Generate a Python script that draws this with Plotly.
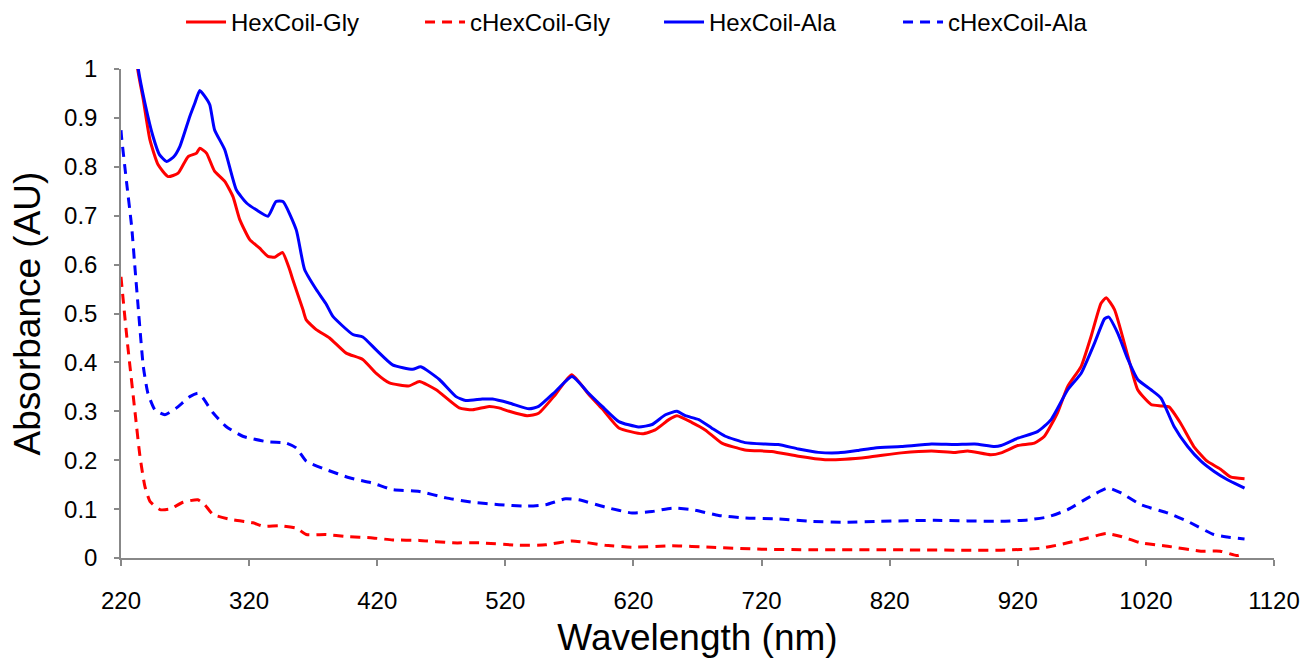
import plotly.graph_objects as go

# ---------------- data ----------------
wl_hex_gly = [220, 226, 233, 237.4, 242.6, 249, 256.8, 264.6, 272.4, 279, 281.5, 286.7, 293, 301,
              307.4, 312.7, 320.5, 328, 334.7, 340, 346, 351.6, 354, 362, 364.6, 372.4, 382.8,
              395.8, 408.7, 419, 429.5, 445, 452.9, 466, 484, 494.4, 507.4, 515, 523, 537, 546,
              559, 571.8, 585.3, 595.6, 608.6, 627, 637, 647.6, 654, 665.7, 676, 689, 707, 728,
              748.8, 769.6, 785, 803, 829, 852.6, 871, 881, 899, 907, 920, 933, 940.8, 951, 959,
              969.5, 977.2, 985, 989, 995.5, 1006, 1013.6, 1024, 1031.8, 1038, 1047, 1057.4,
              1067.8, 1078, 1086, 1097]
abs_hex_gly = [1.38, 1.18, 1.00, 0.937, 0.855, 0.804, 0.780, 0.787, 0.821, 0.828, 0.838, 0.828,
               0.791, 0.770, 0.739, 0.692, 0.651, 0.634, 0.617, 0.615, 0.625, 0.590, 0.570, 0.508,
               0.487, 0.467, 0.450, 0.419, 0.406, 0.378, 0.358, 0.352, 0.361, 0.344, 0.307, 0.303,
               0.310, 0.307, 0.300, 0.291, 0.296, 0.334, 0.375, 0.334, 0.305, 0.266, 0.254, 0.262,
               0.283, 0.291, 0.277, 0.262, 0.235, 0.221, 0.218, 0.208, 0.201, 0.202, 0.206, 0.215,
               0.219, 0.216, 0.219, 0.211, 0.215, 0.230, 0.235, 0.249, 0.297, 0.351, 0.392, 0.453,
               0.521, 0.532, 0.508, 0.412, 0.344, 0.314, 0.311, 0.309, 0.276, 0.228, 0.198, 0.182,
               0.166, 0.162]

wl_hex_ala = [220, 227, 233.5, 238.7, 245, 250, 255.5, 261, 266, 273.7, 277.6, 281.5, 285.4, 289.3,
              293, 301, 310, 318, 325.6, 334.7, 341, 346.4, 356.8, 363.3, 372.4, 380, 385.4, 401,
              408.7, 419, 432, 447.7, 454, 468.5, 481.5, 489, 502, 510, 523, 538.5, 546, 559.3,
              572, 585, 595.6, 608.6, 624, 634.6, 645, 654, 660.5, 671, 681, 691.7, 707, 722.8,
              733, 748.8, 764.4, 780, 795.5, 808.5, 829, 852.6, 871, 886.4, 902, 907, 920, 935.7,
              946, 959, 969.5, 980, 987.7, 990.8, 998, 1006, 1013.6, 1024, 1031.8, 1042, 1052.6,
              1063, 1073.3, 1083.7, 1089, 1097]
abs_hex_ala = [1.40, 1.16, 1.00, 0.930, 0.862, 0.825, 0.811, 0.820, 0.842, 0.903, 0.930, 0.956,
               0.944, 0.927, 0.876, 0.835, 0.753, 0.726, 0.712, 0.699, 0.729, 0.729, 0.671, 0.590,
               0.549, 0.520, 0.494, 0.457, 0.452, 0.426, 0.395, 0.386, 0.391, 0.365, 0.330, 0.322,
               0.325, 0.325, 0.317, 0.305, 0.310, 0.341, 0.371, 0.337, 0.310, 0.279, 0.268, 0.273,
               0.293, 0.300, 0.291, 0.283, 0.266, 0.249, 0.236, 0.233, 0.232, 0.223, 0.216, 0.215,
               0.220, 0.225, 0.228, 0.233, 0.232, 0.233, 0.228, 0.230, 0.245, 0.259, 0.283, 0.344,
               0.378, 0.440, 0.489, 0.493, 0.460, 0.406, 0.365, 0.344, 0.327, 0.269, 0.228, 0.198,
               0.177, 0.160, 0.153, 0.143]

wl_chex_gly = [220, 222, 225, 227, 231, 234.8, 238.7, 242.6, 250.4, 258, 268.5, 280, 285.4, 291.8,
               307.4, 323, 331, 344, 357, 364.6, 380, 395.8, 416.5, 432, 452.9, 478.8, 499.6,
               530.7, 551.5, 572, 598, 619, 650, 681, 720, 759, 811, 907, 938, 959, 974.7, 989,
               1000.6, 1016, 1037, 1063, 1078, 1091.5, 1097]
abs_chex_gly = [0.575, 0.52, 0.44, 0.392, 0.297, 0.208, 0.146, 0.116, 0.099, 0.100, 0.114, 0.119,
                0.109, 0.089, 0.078, 0.072, 0.065, 0.066, 0.061, 0.048, 0.048, 0.044, 0.041, 0.037,
                0.036, 0.031, 0.031, 0.026, 0.027, 0.035, 0.026, 0.022, 0.025, 0.022, 0.018, 0.017,
                0.017, 0.016, 0.020, 0.031, 0.041, 0.050, 0.044, 0.031, 0.024, 0.014, 0.014, 0.005,
                0.010]

wl_chex_ala = [220, 220.5, 224.4, 228.3, 231, 233.5, 237.4, 241, 246.5, 254.3, 263.3, 273.7, 280,
               284, 291.8, 302, 315, 333.5, 349, 356.8, 364.6, 380, 398.3, 416.5, 432, 452.9,
               473.7, 494.4, 515, 536, 551.5, 567, 577.5, 598, 619, 634.6, 650, 665.7, 686.6, 707,
               733, 759, 785, 811, 855, 907, 928, 943.5, 959, 974.7, 990.2, 1000.6, 1016, 1037,
               1052.6, 1073, 1083.6, 1097]
abs_chex_ala = [0.875, 0.859, 0.767, 0.678, 0.590, 0.510, 0.392, 0.337, 0.303, 0.293, 0.307, 0.330,
                0.337, 0.327, 0.297, 0.269, 0.249, 0.238, 0.235, 0.225, 0.198, 0.181, 0.164, 0.153,
                0.140, 0.136, 0.123, 0.114, 0.109, 0.106, 0.109, 0.121, 0.119, 0.104, 0.092, 0.095,
                0.102, 0.099, 0.087, 0.082, 0.080, 0.075, 0.073, 0.075, 0.077, 0.075, 0.078, 0.084,
                0.099, 0.123, 0.143, 0.133, 0.109, 0.092, 0.075, 0.048, 0.043, 0.039]

RED = "#FF0000"
BLUE = "#0000FF"
DASH = "10px,7px"

fig = go.Figure()
series = [
    ("HexCoil-Gly", wl_hex_gly, abs_hex_gly, RED, "solid"),
    ("cHexCoil-Gly", wl_chex_gly, abs_chex_gly, RED, DASH),
    ("HexCoil-Ala", wl_hex_ala, abs_hex_ala, BLUE, "solid"),
    ("cHexCoil-Ala", wl_chex_ala, abs_chex_ala, BLUE, DASH),
]
for name, x, y, col, dash in series:
    fig.add_trace(go.Scatter(
        x=x, y=y, name=name, mode="lines",
        line=dict(color=col, width=3, dash=dash, shape="spline", smoothing=0.5),
    ))

axis_col = "#888888"
fig.update_layout(
    width=1305, height=668,
    margin=dict(l=121, r=31, t=69, b=110),
    paper_bgcolor="white", plot_bgcolor="white",
    font=dict(family="Liberation Sans, Arial, sans-serif", color="black", size=23),
    legend=dict(
        orientation="h", xref="container", yref="container",
        x=0.505, xanchor="center", y=1.0, yanchor="top",
        font=dict(size=24), itemwidth=40, traceorder="normal",
        entrywidth=184, entrywidthmode="pixels",
        bgcolor="rgba(0,0,0,0)",
    ),
    showlegend=True,
)
fig.update_xaxes(
    range=[220, 1120], tick0=220, dtick=100,
    showgrid=False, zeroline=False,
    showline=True, linecolor=axis_col, linewidth=1.5,
    ticks="outside", ticklen=6, tickwidth=1.5, tickcolor=axis_col,
    tickfont=dict(size=24), ticklabelstandoff=14,
    title=dict(text="Wavelength (nm)", font=dict(size=37), standoff=12),
    automargin=False,
)
fig.update_yaxes(
    range=[0, 1], tick0=0, dtick=0.1,
    showgrid=False, zeroline=False,
    showline=True, linecolor=axis_col, linewidth=1.5,
    ticks="outside", ticklen=5, tickwidth=1.5, tickcolor=axis_col,
    tickfont=dict(size=24), ticklabelstandoff=12,
    title=dict(text="Absorbance (AU)", font=dict(size=37), standoff=12),
    automargin=False,
)

fig.write_html("out.html")
